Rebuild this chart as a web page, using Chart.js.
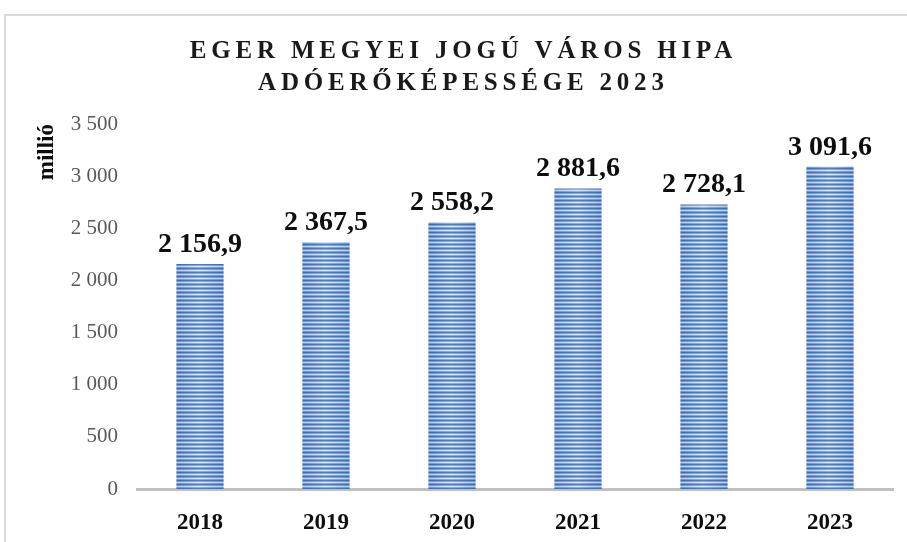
<!DOCTYPE html>
<html>
<head>
<meta charset="utf-8">
<script src="https://cdn.jsdelivr.net/npm/chart.js@4.4.1/dist/chart.umd.min.js"></script>
<style>
  html, body { margin: 0; padding: 0; background: #ffffff; }
  #frame { position: absolute; left: 4px; top: 14px; width: 930px; height: 560px;
           border-left: 2px solid #d9d9d9; border-top: 2px solid #d9d9d9; box-sizing: border-box; }
  #wrap { position: absolute; left: 0; top: 0; width: 907px; height: 542px; }
</style>
</head>
<body>
<div id="frame"></div>
<div id="wrap"><canvas id="c" width="907" height="542"></canvas></div>
<script>
const titleLines = ['EGER MEGYEI JOGÚ VÁROS HIPA', 'ADÓERŐKÉPESSÉGE 2023'];
const years = ['2018', '2019', '2020', '2021', '2022', '2023'];
const values = [2156.9, 2367.5, 2558.2, 2881.6, 2728.1, 3091.6];
const yTicks = [0, 500, 1000, 1500, 2000, 2500, 3000, 3500];
const yAxisTitle = 'millió';

const SERIF = '"Liberation Serif", "Times New Roman", serif';

function fmtThousands(intStr) {
  return intStr.replace(/\B(?=(\d{3})+(?!\d))/g, ' ');
}
function fmtValue(v) {
  const parts = v.toFixed(1).split('.');
  return fmtThousands(parts[0]) + ',' + parts[1];
}

function makeBarPattern(ctx, left, width) {
  const c = document.createElement('canvas');
  const w = Math.max(1, Math.round(width));
  c.width = w; c.height = 4;
  const g = c.getContext('2d');
  const rows = [
    ['#3a6cb3', '#4f80c4'],
    ['#6b94d0', '#8fb0e0'],
    ['#b3c9ea', '#dde8f7'],
    ['#6b94d0', '#8fb0e0']
  ];
  rows.forEach((r, i) => {
    const grad = g.createLinearGradient(0, 0, w, 0);
    grad.addColorStop(0, r[0]);
    grad.addColorStop(0.5, r[1]);
    grad.addColorStop(1, r[0]);
    g.fillStyle = grad;
    g.fillRect(0, i, w, 1);
  });
  const p = ctx.createPattern(c, 'repeat');
  if (p.setTransform) p.setTransform(new DOMMatrix().translate(Math.round(left), 0));
  return p;
}

const stripePlugin = {
  id: 'stripes',
  beforeDatasetsDraw(chart) {
    const meta = chart.getDatasetMeta(0);
    meta.data.forEach(el => {
      const left = el.x - el.width / 2;
      el.options = Object.assign({}, el.options, { backgroundColor: makeBarPattern(chart.ctx, left, el.width) });
    });
  }
};

const labelPlugin = {
  id: 'valueLabels',
  afterDatasetsDraw(chart) {
    const ctx = chart.ctx;
    const meta = chart.getDatasetMeta(0);
    ctx.save();
    ctx.font = 'bold 28px ' + SERIF;
    ctx.fillStyle = '#0d0d0d';
    ctx.textAlign = 'center';
    ctx.textBaseline = 'alphabetic';
    meta.data.forEach((el, i) => {
      ctx.fillText(fmtValue(values[i]), el.x, el.y - 12);
    });
    ctx.restore();
  }
};

const titlePlugin = {
  id: 'spacedTitle',
  afterDraw(chart) {
    const ctx = chart.ctx;
    ctx.save();
    ctx.font = 'bold 25px ' + SERIF;
    ctx.fillStyle = '#1a1a1a';
    ctx.textAlign = 'center';
    ctx.textBaseline = 'alphabetic';
    const ls = 4.8;
    ctx.letterSpacing = ls + 'px';
    const cx = 461 + ls / 2;
    ctx.fillText(titleLines[0], cx, 58);
    ctx.fillText(titleLines[1], cx, 90);
    ctx.restore();
  }
};

new Chart(document.getElementById('c'), {
  type: 'bar',
  data: {
    labels: years,
    datasets: [{
      data: values,
      backgroundColor: '#6f97d0',
      borderWidth: 0,
      barPercentage: 0.375,
      categoryPercentage: 1.0
    }]
  },
  options: {
    responsive: false,
    animation: false,
    devicePixelRatio: 1,
    layout: { padding: { top: 124, right: 14, bottom: 0, left: 0 } },
    plugins: {
      legend: { display: false },
      title: { display: false },
      tooltip: { enabled: false }
    },
    scales: {
      x: {
        grid: { display: false, drawTicks: false },
        border: { display: true, color: '#c0c0c0', width: 3 },
        ticks: {
          color: '#0d0d0d',
          padding: 20,
          font: { family: SERIF, size: 23, weight: 'bold' }
        },
        afterFit(scale) { scale.height = 53; }
      },
      y: {
        min: 0,
        max: 3500,
        afterBuildTicks(scale) { scale.ticks = yTicks.map(v => ({ value: v })); },
        grid: { display: false, drawTicks: false },
        border: { display: false },
        ticks: {
          color: '#595959',
          padding: 19,
          font: { family: SERIF, size: 21 },
          callback: v => fmtThousands(String(v))
        },
        title: {
          display: true,
          text: yAxisTitle,
          align: 'end',
          color: '#0d0d0d',
          padding: { top: 33, bottom: 0 },
          font: { family: SERIF, size: 23, weight: 'bold' }
        },
        afterFit(scale) { scale.width = 137; }
      }
    }
  },
  plugins: [stripePlugin, labelPlugin, titlePlugin]
});
</script>
</body>
</html>
